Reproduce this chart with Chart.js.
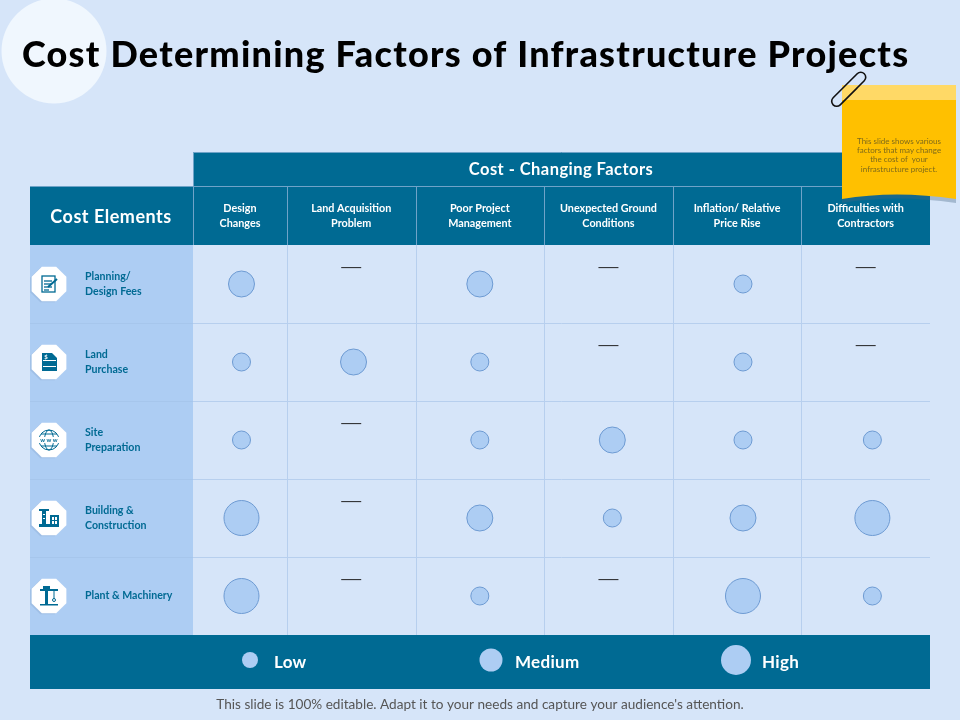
<!DOCTYPE html>
<html>
<head>
<meta charset="utf-8">
<style>
  html, body { margin: 0; padding: 0; background: #D6E5F9; }
  canvas { display: block; }
</style>
<script src="https://cdn.jsdelivr.net/npm/chart.js@4"></script>
</head>
<body>
<canvas id="matrix" width="960" height="720"></canvas>
<script>
const titleText = "Cost Determining Factors of Infrastructure Projects";
const footerText = "This slide is 100% editable. Adapt it to your needs and capture your audience's attention.";
const noteLines = ["This slide shows various", "factors that may change", "the cost of  your", "infrastructure project."];

const costFactors = [
  ["Design", "Changes"],
  ["Land Acquisition", "Problem"],
  ["Poor Project", "Management"],
  ["Unexpected Ground", "Conditions"],
  ["Inflation/ Relative", "Price Rise"],
  ["Difficulties with", "Contractors"]
];
const costElements = [
  ["Planning/", "Design Fees"],
  ["Land", "Purchase"],
  ["Site", "Preparation"],
  ["Building &", "Construction"],
  ["Plant & Machinery"]
];
const levelNames = ["Low", "Medium", "High"];

// 0 = dash (no effect), 1 low, 2 medium, 3 high
const planningLevels = [2, 0, 2, 0, 1, 0];
const landLevels = [1, 2, 1, 0, 1, 0];
const siteLevels = [1, 0, 1, 2, 1, 1];
const buildingLevels = [3, 0, 2, 1, 2, 3];
const plantLevels = [3, 0, 1, 0, 3, 1];
const allLevels = [planningLevels, landLevels, siteLevels, buildingLevels, plantLevels];

// layout
const columnWidths = [0.73, 1, 1, 1, 1, 1];
const bubbleNudge = [0.012, 0.018, 0, 0.03, 0.046, 0.052];
const levelRadius = [0, 9, 13, 17.5];
const legendRadius = [8, 11.5, 15];
const legendDotX = [250, 491, 736];
const legendTextX = [274, 515, 762];
const dashLift = 0.21;

const DARK = "#006A93";
const BAND = "#ADCDF3";
const LINE = "#B7CFEE";
const FONT = "Lato, 'Noto Sans', sans-serif";

const columnEdges = columnWidths.reduce((acc, w) => { acc.push(acc[acc.length - 1] + w); return acc; }, [0]);
const columnCenter = i => (columnEdges[i] + columnEdges[i + 1]) / 2;

const bubbleData = [];
const dashData = [];
allLevels.forEach((levels, row) => {
  levels.forEach((level, col) => {
    if (level > 0) {
      bubbleData.push({ x: columnCenter(col) + bubbleNudge[col], y: row + 0.5, r: levelRadius[level] });
    } else {
      dashData.push({ x: columnCenter(col), y: row + 0.5 - dashLift });
    }
  });
});

function writeText(ctx, text, x, y, font, color, align, spacing) {
  ctx.save();
  ctx.font = font;
  ctx.fillStyle = color;
  ctx.textAlign = align || "left";
  ctx.textBaseline = "middle";
  ctx.letterSpacing = spacing || "0px";
  ctx.fillText(text, x, y);
  ctx.restore();
}

function octagon(ctx, cx, cy, r) {
  ctx.beginPath();
  for (let i = 0; i < 8; i++) {
    const a = Math.PI / 8 + i * Math.PI / 4;
    ctx.lineTo(cx + r * Math.cos(a), cy + r * Math.sin(a));
  }
  ctx.closePath();
}

// little row icons, roughly traced
const icons = [
  (ctx) => {
    ctx.lineWidth = 1.3;
    ctx.strokeRect(-7, -8, 13, 16);
    for (let i = 0; i < 4; i++) { ctx.beginPath(); ctx.moveTo(-5, -3 + i * 3); ctx.lineTo(i == 3 ? 0 : 3, -3 + i * 3); ctx.stroke(); }
    ctx.lineWidth = 2;
    ctx.beginPath(); ctx.moveTo(-1, 3); ctx.lineTo(8, -5); ctx.stroke();
  },
  (ctx) => {
    ctx.beginPath(); ctx.moveTo(-7, -9); ctx.lineTo(3, -9); ctx.lineTo(8, -4); ctx.lineTo(8, 9); ctx.lineTo(-7, 9); ctx.closePath(); ctx.fill();
    ctx.fillStyle = "#fff"; ctx.fillRect(-6, -2, 13, 1); ctx.fillRect(-6, 4, 13, 1);
    writeText(ctx, "$", -3, -5, "bold 6px " + FONT, "#fff", "center");
  },
  (ctx) => {
    ctx.beginPath(); ctx.arc(0, 0, 10, 0, Math.PI * 2); ctx.stroke();
    ctx.beginPath(); ctx.ellipse(0, 0, 4.5, 10, 0, 0, Math.PI * 2); ctx.stroke();
    [-6, 6].forEach(y => { ctx.beginPath(); ctx.moveTo(-8, y); ctx.lineTo(8, y); ctx.stroke(); });
    ctx.fillStyle = "#fff"; ctx.fillRect(-11, -3, 22, 6);
    writeText(ctx, "w w w", 0, 0, "bold 6px " + FONT, DARK, "center");
  },
  (ctx) => {
    ctx.fillRect(-10, 6, 20, 3);
    ctx.fillRect(-7, -8, 4, 15);
    ctx.fillRect(-10, -9, 10, 2);
    ctx.fillRect(1, -3, 9, 10);
    ctx.fillStyle = "#fff"; ctx.fillRect(3, -1, 2, 3); ctx.fillRect(6, -1, 2, 3); ctx.fillRect(3, 3, 2, 3); ctx.fillRect(6, 3, 2, 3);
    ctx.fillRect(-6, -4, 2, 1); ctx.fillRect(-6, 0, 2, 1);
  },
  (ctx) => {
    ctx.fillRect(-9, -7, 18, 2);
    ctx.fillRect(-6, -10, 7, 5);
    ctx.fillRect(-4, -5, 3, 13);
    ctx.fillRect(-9, 8, 18, 1.5);
    ctx.beginPath(); ctx.moveTo(5, -5); ctx.lineTo(5, 3); ctx.stroke();
    ctx.beginPath(); ctx.arc(5, 4, 1.5, 0, Math.PI * 2); ctx.stroke();
  }
];

const backdropPlugin = {
  id: "backdrop",
  beforeDraw(chart) {
    const { ctx, chartArea: area, scales } = chart;
    ctx.save();
    ctx.fillStyle = "#D6E5F9";
    ctx.fillRect(0, 0, 960, 720);

    // corner disc behind the title
    ctx.fillStyle = "#F0F7FE";
    ctx.beginPath(); ctx.arc(54, 51, 52.5, 0, Math.PI * 2); ctx.fill();
    writeText(ctx, titleText, 22, 55, "900 36px " + FONT, "#000", "left", "1.25px");

    // header blocks
    ctx.fillStyle = DARK;
    ctx.fillRect(area.left, 152, area.right - area.left, 34);
    ctx.fillRect(30, 186, area.right - 30, area.top - 186);
    // left band and legend band
    ctx.fillStyle = BAND;
    ctx.fillRect(30, area.top, area.left - 30, area.bottom - area.top);
    ctx.fillStyle = DARK;
    ctx.fillRect(30, area.bottom, area.right - 30, 54);

    // table lines
    ctx.lineWidth = 1;
    ctx.strokeStyle = "#6FA3C8";
    ctx.beginPath();
    ctx.moveTo(area.left, 152.5); ctx.lineTo(area.right, 152.5);
    ctx.moveTo(30, 186.5); ctx.lineTo(area.right, 186.5);
    ctx.moveTo(area.left + 0.5, 152); ctx.lineTo(area.left + 0.5, area.top);
    columnEdges.slice(1, -1).forEach(edge => {
      const x = Math.round(scales.x.getPixelForValue(edge)) + 0.5;
      ctx.moveTo(x, 186); ctx.lineTo(x, area.top);
    });
    ctx.stroke();

    ctx.strokeStyle = LINE;
    ctx.beginPath();
    columnEdges.slice(1, -1).forEach(edge => {
      const x = Math.round(scales.x.getPixelForValue(edge)) + 0.5;
      ctx.moveTo(x, area.top); ctx.lineTo(x, area.bottom);
    });
    for (let r = 1; r < costElements.length; r++) {
      const y = Math.round(scales.y.getPixelForValue(r)) + 0.5;
      ctx.moveTo(area.left, y); ctx.lineTo(area.right, y);
    }
    ctx.stroke();

    ctx.strokeStyle = "#A6C6EC";
    ctx.beginPath();
    for (let r = 1; r < costElements.length; r++) {
      const y = Math.round(scales.y.getPixelForValue(r)) + 0.5;
      ctx.moveTo(30, y); ctx.lineTo(area.left, y);
    }
    ctx.stroke();

    writeText(ctx, "Cost - Changing Factors", 561, 169.5, "bold 16.5px " + FONT, "#fff", "center", "0.45px");
    writeText(ctx, "Cost Elements", 111, 217, "bold 18px " + FONT, "#fff", "center", "0.5px");

    // row icons
    costElements.forEach((_, r) => {
      const cy = scales.y.getPixelForValue(r + 0.5);
      ctx.save();
      ctx.fillStyle = "rgba(120,150,190,0.25)";
      octagon(ctx, 47.5, cy + 1, 18.8); ctx.fill();
      ctx.fillStyle = "#fff";
      octagon(ctx, 49, cy, 18.8); ctx.fill();
      ctx.translate(49, cy);
      ctx.fillStyle = DARK;
      ctx.strokeStyle = DARK;
      ctx.lineWidth = 1;
      icons[r](ctx);
      ctx.restore();
    });

    // legend
    levelNames.forEach((name, i) => {
      ctx.fillStyle = BAND;
      ctx.beginPath(); ctx.arc(legendDotX[i], 660, legendRadius[i], 0, Math.PI * 2); ctx.fill();
      writeText(ctx, name, legendTextX[i], 663, "bold 17px " + FONT, "#fff", "left", "0.3px");
    });

    writeText(ctx, footerText, 480, 705, "13.6px " + FONT, "#555", "center");
    ctx.restore();
  },
  afterDraw(chart) {
    const { ctx } = chart;
    ctx.save();
    // sticky note with curled foot
    const foot = (dy) => {
      ctx.moveTo(842, 85);
      ctx.lineTo(956, 85);
      ctx.lineTo(956, 199 + dy);
      ctx.quadraticCurveTo(895, 190 + dy, 842, 199 + dy);
      ctx.closePath();
    };
    ctx.fillStyle = "rgba(70,100,130,0.35)";
    ctx.beginPath(); foot(4); ctx.fill();
    ctx.fillStyle = "#FFC000";
    ctx.beginPath(); foot(0); ctx.fill();
    ctx.fillStyle = "#FFD966";
    ctx.fillRect(842, 85, 114, 15);
    noteLines.forEach((line, i) => {
      writeText(ctx, line, 899, 141 + i * 9.4, "8px " + FONT, "#7E6A1A", "center");
    });

    // paper clip
    ctx.translate(848, 90);
    ctx.rotate(-Math.PI / 4);
    ctx.strokeStyle = "#111";
    ctx.lineWidth = 1.6;
    ctx.beginPath();
    ctx.moveTo(-14, 5);
    ctx.lineTo(18, 5);
    ctx.arc(18, 0, 5, Math.PI / 2, -Math.PI / 2, true);
    ctx.lineTo(-16, -5);
    ctx.arc(-16, 0, 5, -Math.PI / 2, Math.PI / 2, true);
    ctx.lineTo(8, 5);
    ctx.stroke();
    ctx.restore();
  }
};

new Chart(document.getElementById("matrix"), {
  type: "bubble",
  data: {
    datasets: [
      {
        label: "Impact",
        data: bubbleData,
        backgroundColor: BAND,
        borderColor: "#6E9BD3",
        borderWidth: 1,
        hoverBorderWidth: 1
      },
      {
        type: "scatter",
        label: "None",
        data: dashData,
        pointStyle: "line",
        pointRadius: 10,
        pointBorderColor: "#222",
        pointBorderWidth: 1
      }
    ]
  },
  options: {
    responsive: false,
    animation: false,
    events: [],
    layout: { autoPadding: false, padding: { left: 85, right: 30, top: 0, bottom: 85 } },
    plugins: { legend: { display: false }, tooltip: { enabled: false } },
    scales: {
      x: {
        type: "linear",
        position: "top",
        min: 0,
        max: columnEdges[columnEdges.length - 1],
        grid: { display: false },
        border: { display: false },
        afterBuildTicks: scale => { scale.ticks = costFactors.map((_, i) => ({ value: columnCenter(i) })); },
        afterFit: scale => { scale.height = 245; },
        ticks: {
          autoSkip: false,
          maxRotation: 0,
          padding: 6,
          color: "#fff",
          font: { family: FONT, size: 10.8, weight: "bold", lineHeight: 1.4 },
          callback: (value, index) => costFactors[index]
        }
      },
      y: {
        type: "linear",
        reverse: true,
        min: 0,
        max: costElements.length,
        grid: { display: false },
        border: { display: false },
        afterBuildTicks: scale => { scale.ticks = costElements.map((_, i) => ({ value: i + 0.5 })); },
        afterFit: scale => { scale.width = 108; },
        ticks: {
          autoSkip: false,
          crossAlign: "far",
          color: DARK,
          font: { family: FONT, size: 10.6, weight: "bold", lineHeight: 1.4 },
          callback: (value, index) => costElements[index]
        }
      }
    }
  },
  plugins: [backdropPlugin]
});
</script>
</body>
</html>
